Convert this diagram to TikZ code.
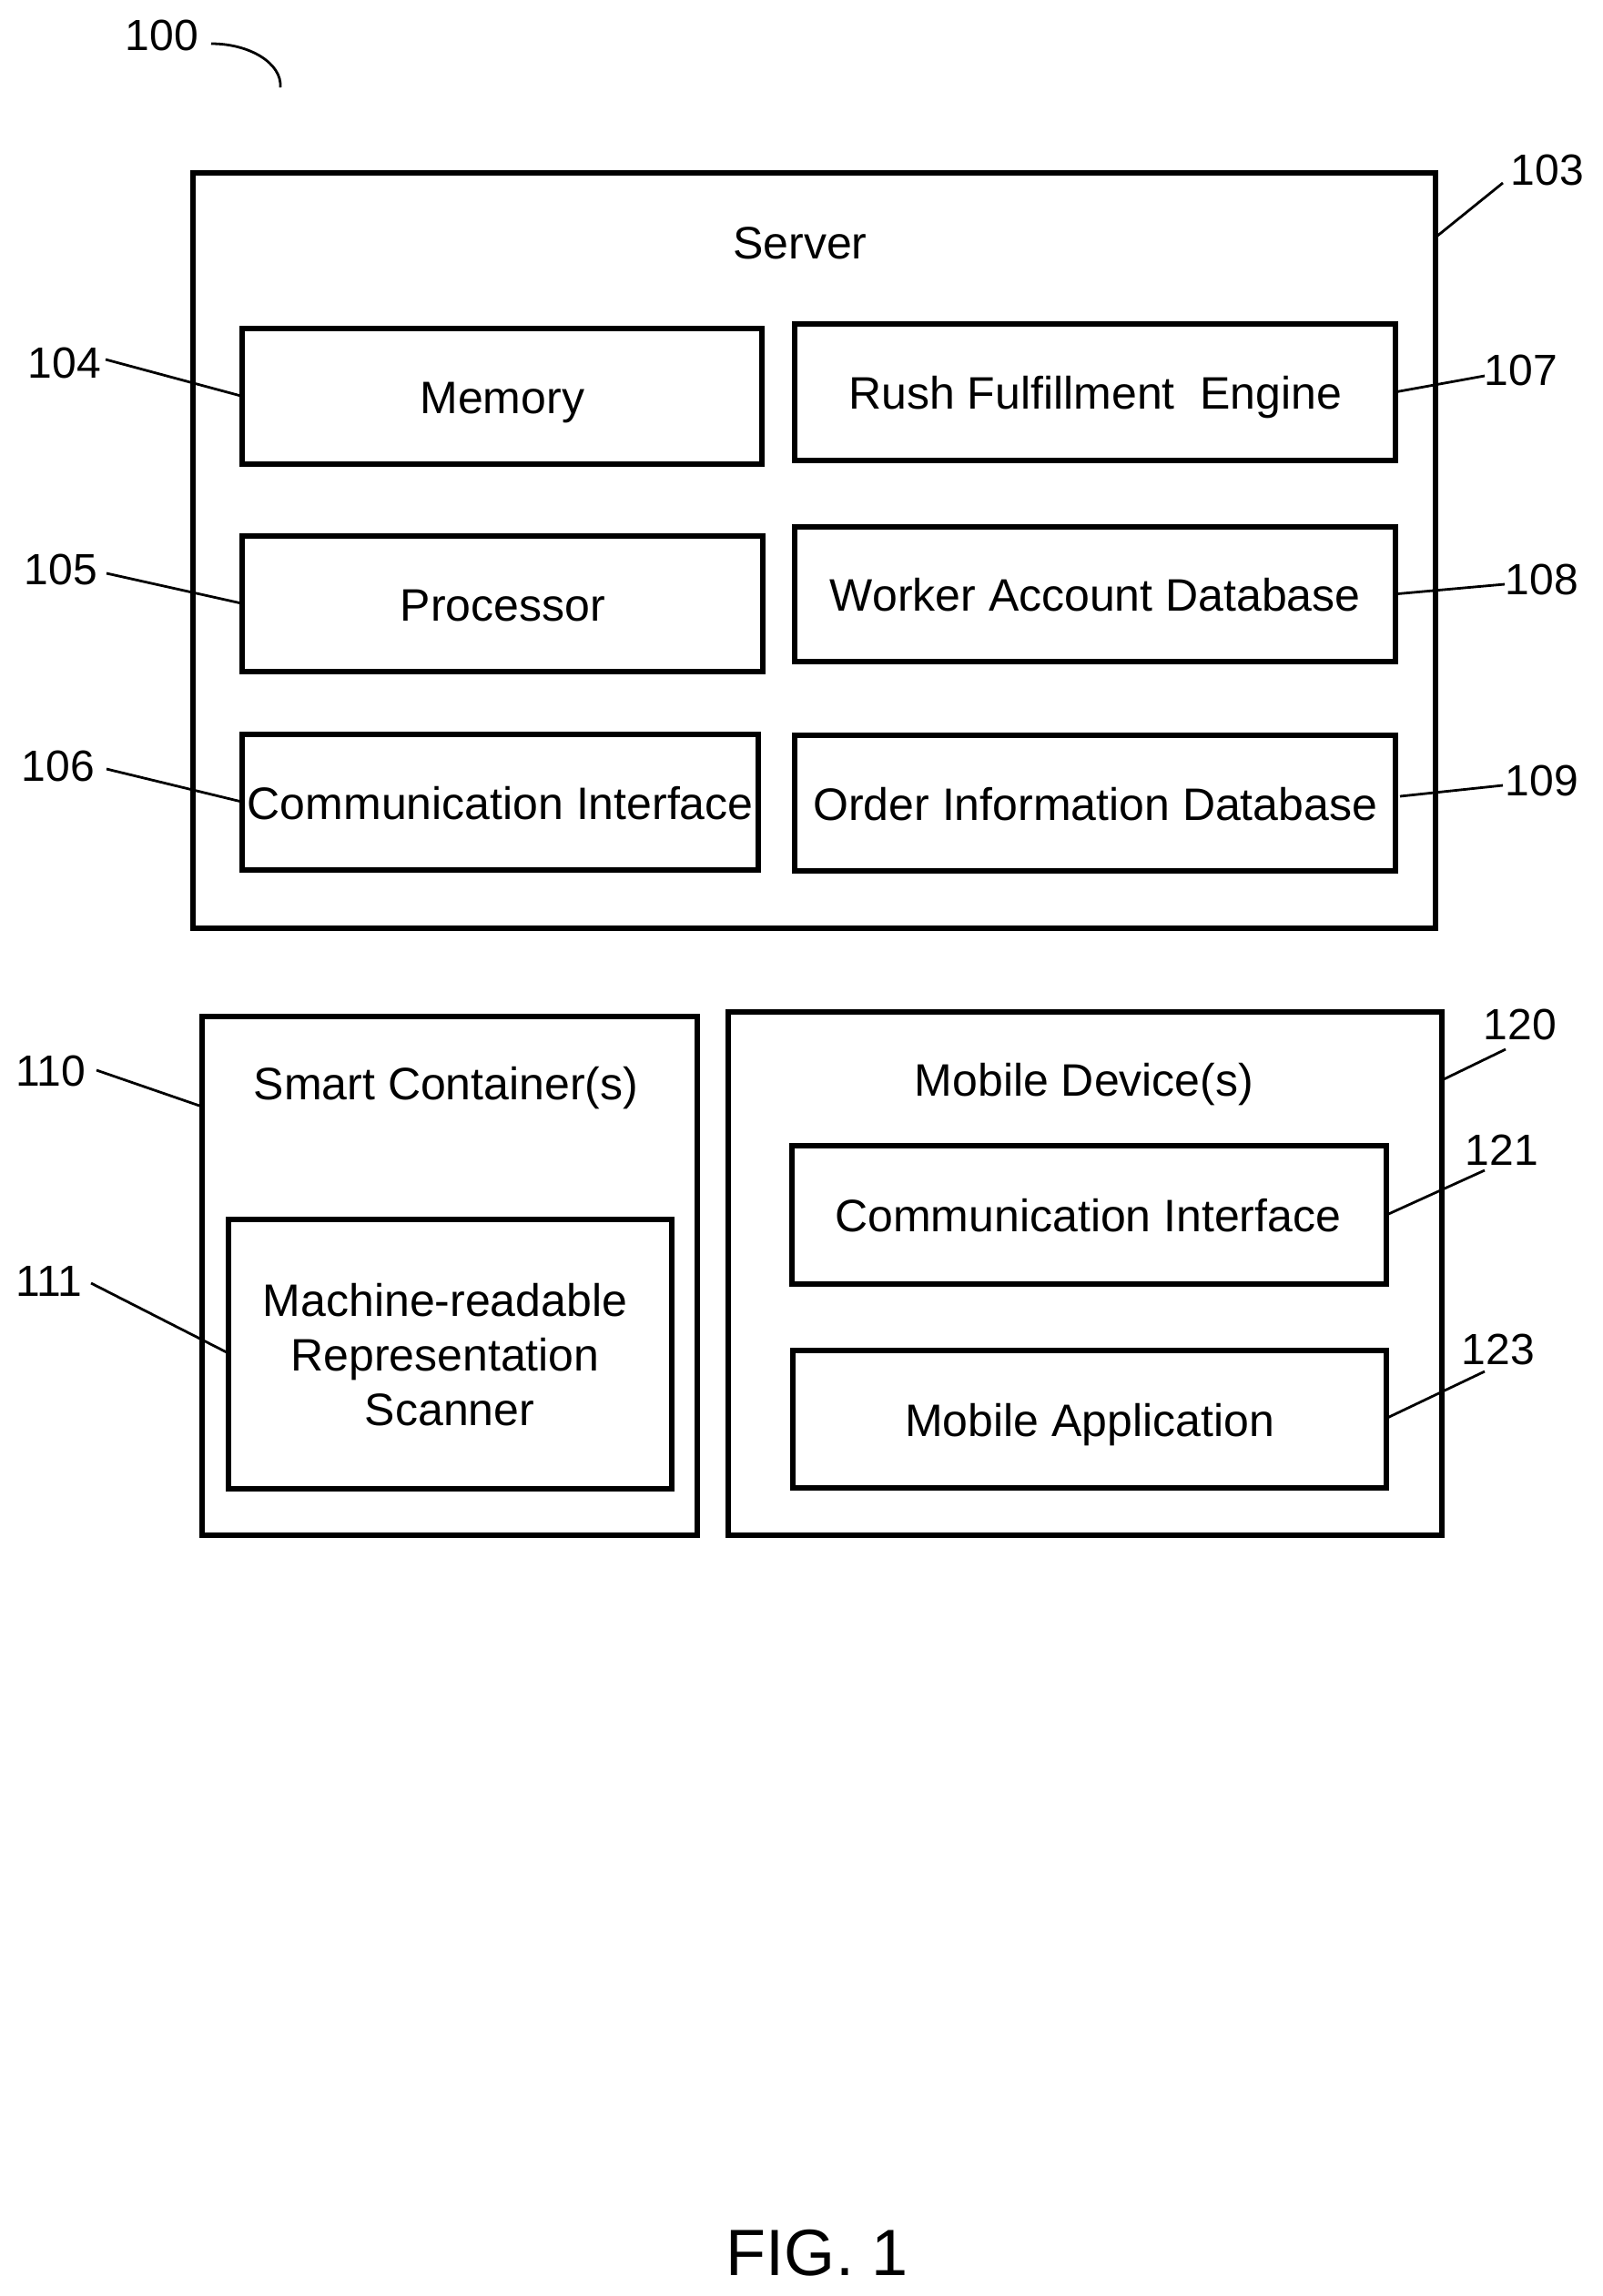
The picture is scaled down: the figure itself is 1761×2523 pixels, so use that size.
\documentclass[tikz,border=0pt]{standalone}
\usepackage{fontspec}
\setmainfont{Liberation Sans}
\usetikzlibrary{calc}
\newcommand{\pxbox}[6]{%
  \pgfmathsetmacro{\cxx}{(#2+#4)/2+0.8}\pgfmathsetmacro{\cyy}{(#3+#5)/2+0.7}%
  \pgfmathsetmacro{\wdd}{(#4-#2)*0.5}\pgfmathsetmacro{\htt}{(#5-#3)*0.5}%
  \node[blk,minimum width=\wdd pt,minimum height=\htt pt] (#1) at (\cxx,\cyy) {#6};}
\tikzset{
  blk/.style={draw=black,line width=2.9pt,inner sep=0pt,outer sep=0pt,font=\fontsize{25}{30}\selectfont,text height=19pt,text depth=0pt},
  txt/.style={inner sep=0pt,outer sep=0pt,font=\fontsize{25}{30}\selectfont,text height=18pt,text depth=0pt},
  refnum/.style={inner sep=0pt,outer sep=0pt,font=\fontsize{24}{30}\selectfont,text height=17.5pt,text depth=0pt},
  lead/.style={draw=black,line width=1.4pt},
}
\begin{document}
\begin{tikzpicture}[x=0.5pt,y=-0.5pt]
\useasboundingbox (0,0) rectangle (1761,2523);
% boxes
\pxbox{server}{211}{189.5}{1576.5}{1019.5}{}
\pxbox{mem}{265.5}{360}{836.5}{509.5}{Memory}
\pxbox{proc}{265.5}{588}{837.5}{737}{Processor}
\pxbox{comm}{265.5}{806}{832.5}{955}{Communication Interface}
\pxbox{rush}{872.5}{355}{1532.5}{505}{Rush Fulfillment\ \ Engine}
\pxbox{worker}{872.5}{578}{1532.5}{726}{Worker Account Database}
\pxbox{order}{872.5}{807}{1532.5}{956}{Order Information Database}
\pxbox{smart}{221.5}{1116}{765.5}{1686.5}{}
\pxbox{scan}{250.5}{1339}{737.5}{1635.5}{}
\pxbox{mobile}{799.5}{1111}{1583.5}{1686.5}{}
\pxbox{mcomm}{869.5}{1258}{1522.5}{1410.5}{Communication Interface\kern1.5pt}
\pxbox{mapp}{870}{1483}{1522.5}{1634.5}{Mobile Application}
% titles
\node[txt] (tserver) at (879,266) {Server};
\node[txt] (tsmart) at (490,1190) {Smart Container(s)};
\node[txt] (tmobile) at (1191,1186) {Mobile Device(s)};
\node[txt] (tscan1) at (489,1428) {Machine-readable};
\node[txt] (tscan2) at (489,1488) {Representation};
\node[txt] (tscan3) at (494,1548) {Scanner};
\node[inner sep=0pt,font=\fontsize{36}{40}\selectfont,text height=25.8pt,text depth=0pt] (fig) at (898,2475) {FIG. 1};
% reference numerals
\node[refnum] (l100) at (178,38) {100};
\node[refnum] (l103) at (1700,186) {103};
\node[refnum] (l104) at (71,398) {104};
\node[refnum] (l105) at (67,625) {105};
\node[refnum] (l106) at (64,841) {106};
\node[refnum] (l107) at (1671,406) {107};
\node[refnum] (l108) at (1694,636) {108};
\node[refnum] (l109) at (1694,857) {109};
\node[refnum] (l110) at (56,1176) {110};
\node[refnum] (l111) at (54,1407) {111};
\node[refnum] (l120) at (1670,1125) {120};
\node[refnum] (l121) at (1650,1263) {121};
\node[refnum] (l123) at (1646,1482) {123};
% leader free ends
\coordinate (c100) at (232,48);
\coordinate (e100) at (308,96);
\coordinate (c103) at (1651,201);
\coordinate (e103) at (1578,260);
\coordinate (c104) at (116,395);
\coordinate (c105) at (117,630);
\coordinate (c106) at (117,845);
\coordinate (c107) at (1631,413);
\coordinate (c108) at (1653,642);
\coordinate (c109) at (1651,863);
\coordinate (e109) at (1538,875);
\coordinate (c110) at (106,1176);
\coordinate (e110) at (222,1216);
\coordinate (c111) at (100,1410);
\coordinate (e111) at (251,1487);
\coordinate (c120) at (1654,1153);
\coordinate (e120) at (1586,1186);
\coordinate (c121) at (1631,1286);
\coordinate (c123) at (1631,1507);
\coordinate (e123) at (1524,1558);
% leaders
\draw[lead] (c100) .. controls (275,48) and (310,70) .. (e100);
\draw[lead] (c103) -- (e103);
\draw[lead] (c104) -- (mem.west);
\draw[lead] (c105) -- (proc.west);
\draw[lead] (c106) -- (comm.west);
\draw[lead] (c107) -- (rush.east);
\draw[lead] (c108) -- (worker.east);
\draw[lead] (c109) -- (e109);
\draw[lead] (c110) -- (e110);
\draw[lead] (c111) -- (e111);
\draw[lead] (c120) -- (e120);
\draw[lead] (c121) -- (mcomm.east);
\draw[lead] (c123) -- (e123);
\end{tikzpicture}
\end{document}
